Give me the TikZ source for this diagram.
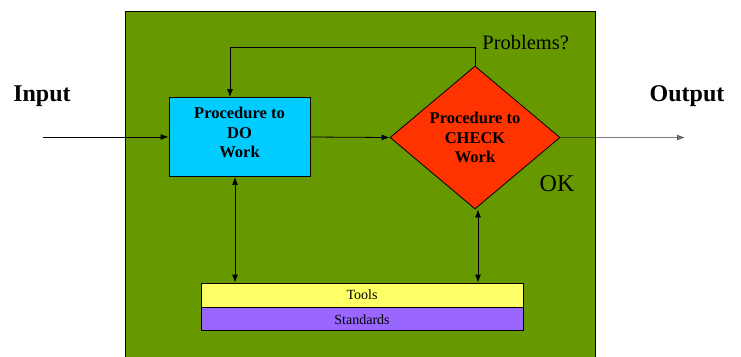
\documentclass[tikz,border=0pt]{standalone}
\usepackage{fontspec}
\setmainfont{Liberation Serif}
\usetikzlibrary{arrows.meta,positioning,shapes.geometric}
\definecolor{fieldGreen}{RGB}{102,153,0}
\definecolor{doBlue}{RGB}{0,204,255}
\definecolor{checkRed}{RGB}{255,51,0}
\definecolor{toolYellow}{RGB}{255,255,102}
\definecolor{stdPurple}{RGB}{153,102,255}

\begin{document}
\begin{tikzpicture}[x=1pt, y=-1pt, line width=0.8pt, >={Latex[length=8pt,width=6pt]},
    every node/.style={font=\fontsize{16.5}{19.5}\selectfont\bfseries, align=center},
    dobox/.style={draw, fill=doBlue, minimum width=141pt, minimum height=79pt, inner sep=0pt},
    checkbox/.style={draw, diamond, aspect=1.2, fill=checkRed, minimum width=170pt, minimum height=143pt, inner sep=0pt},
    barbox/.style={draw, minimum width=322pt, inner sep=0pt, font=\fontsize{14}{14}\selectfont}]
    \useasboundingbox (0,0) rectangle (741,356);
    % green field of the process
    \fill[fieldGreen] (125,11) rectangle (595,357);
    \draw (125,357) -- (125,11) -- (595,11) -- (595,357);
    \node[dobox, text depth=9pt] (do) at (239.5,137) {Procedure to\\DO\\Work};
    \node[checkbox] (chk) at (475,137.5) {Procedure to\\CHECK\\Work};
    \node[barbox, fill=toolYellow, minimum height=24pt] (tools) at (362,295) {Tools};
    \node[barbox, fill=stdPurple, minimum height=23pt, anchor=north] (std) at (tools.south) {Standards};
    % labels
    \node[font=\fontsize{24}{24}\selectfont\bfseries] (inlbl) at (42,96) {Input};
    \node[font=\fontsize{24}{24}\selectfont\bfseries] (outlbl) at (687,96) {Output};
    \node[font=\fontsize{24}{24}\selectfont] (oklbl) at (557,184) {OK};
    \node[font=\fontsize{20.5}{20.5}\selectfont, anchor=west, inner sep=0pt] (prob) at (482,43) {Problems?};
    % connectors
    \coordinate (in) at (43,137);
    \coordinate (out) at (685,137.5);
    \coordinate (fb) at (230,47);
    \draw[->] (in) -- (do.west);
    \draw[->] (do.east) -- (chk.west);
    \draw[->, draw opacity=0.5, fill opacity=0.5] (chk.east) -- (out);
    \draw[->] (chk.north) -- (chk.north |- fb) -- (fb) -- (fb |- do.north);
    \draw[<->] ([xshift=-4.5pt]do.south) -- ([xshift=-4.5pt]do.south |- tools.north);
    \draw[<->] ([xshift=3pt]chk.south) -- ([xshift=3pt]chk.south |- tools.north);
\end{tikzpicture}
\end{document}
